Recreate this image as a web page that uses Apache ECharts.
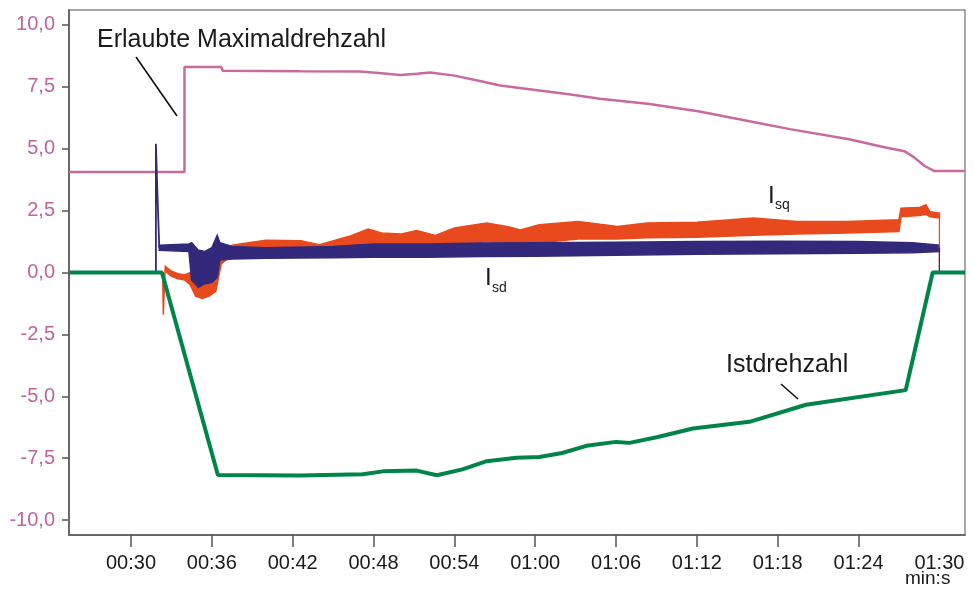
<!DOCTYPE html>
<html>
<head>
<meta charset="utf-8">
<script src="https://cdn.jsdelivr.net/npm/echarts@6/dist/echarts.min.js"></script>
<style>
html,body{margin:0;padding:0;background:#fff;}
#main{width:974px;height:589px;}
</style>
</head>
<body>
<div id="main"></div>
<script>
// Zeitachse in Sekunden
var yTicks = [-10, -7.5, -5, -2.5, 0, 2.5, 5, 7.5, 10];
var xTicks = [30, 36, 42, 48, 54, 60, 66, 72, 78, 84];
var xLabels = [30, 36, 42, 48, 54, 60, 66, 72, 78, 84, 90];

// Erlaubte Maximaldrehzahl
var maxT = [25.4, 33.97, 33.97, 36.7, 36.8, 42.6, 47.0, 48.6, 50.0, 51.2, 52.2, 54.0, 55.9, 57.4, 60.3, 62.5, 64.8, 68.5, 72.2, 75.9, 78.9, 83.3, 86.0, 87.4, 88.1, 88.9, 89.6, 91.9];
var maxV = [4.06, 4.06, 8.3, 8.3, 8.15, 8.13, 8.12, 8.05, 7.98, 8.03, 8.08, 7.95, 7.73, 7.55, 7.35, 7.2, 7.02, 6.8, 6.5, 6.11, 5.79, 5.38, 5.05, 4.9, 4.66, 4.3, 4.1, 4.1];

// Istdrehzahl
var istT = [25.4, 32.3, 36.45, 42.55, 47.2, 48.7, 51.2, 52.7, 54.6, 56.4, 58.6, 60.3, 62.0, 63.8, 66.0, 67.0, 69.1, 71.7, 75.9, 80.1, 87.5, 89.5, 91.9];
var istV = [0, 0, -8.18, -8.2, -8.15, -8.03, -8.0, -8.19, -7.95, -7.62, -7.48, -7.45, -7.29, -7.0, -6.84, -6.88, -6.64, -6.3, -6.03, -5.34, -4.75, 0, 0];

// Isd: duenne Linie (Spitze beim Einschalten) und Band
var isdLineT = [25.4, 31.85, 31.85, 31.95, 32.05, 32.1];
var isdLineV = [0, 0, 5.2, 3.4, 3.4, 1.0];
var isdEndT = [90.0, 90.0, 91.9];
var isdEndV = [1.0, 0, 0];
var isdT = [32.1, 34.3, 34.5, 35.0, 35.5, 36.0, 36.4, 36.6, 37.5, 40, 45, 48, 52, 56, 60, 66, 72, 78, 84, 88, 90.0];
var isdLo = [0.9, 0.85, -0.3, -0.6, -0.45, -0.4, -0.2, 0.5, 0.55, 0.58, 0.6, 0.62, 0.62, 0.65, 0.66, 0.7, 0.74, 0.76, 0.78, 0.8, 0.85];
var isdHi = [1.1, 1.15, 1.2, 0.9, 0.85, 1.0, 1.5, 1.2, 1.05, 1.0, 1.05, 1.15, 1.15, 1.19, 1.2, 1.22, 1.25, 1.26, 1.25, 1.2, 1.1];

// Isq
var isqLineT = [25.4, 32.35, 32.4, 32.5, 32.55];
var isqLineV = [0, 0, -1.7, -0.2, 0.15];
var isqEndT = [90.0, 90.0, 91.9];
var isqEndV = [2.3, 0, 0];
var isqT = [32.55, 33.0, 33.5, 34.0, 34.4, 34.8, 35.3, 35.8, 36.3, 36.5, 36.7, 37.5, 40, 42.6, 44, 46.2, 47.6, 48.6, 50, 51.2, 52.6, 54.0, 56.4, 58.0, 58.9, 60.3, 63.2, 66.1, 68.3, 72.0, 76.2, 79.4, 83.1, 87.0, 87.15, 88.5, 89.0, 89.3, 90.0];
var isqLo = [0.05, -0.15, -0.25, -0.3, -0.5, -0.95, -1.05, -0.95, -0.75, -0.2, 0.35, 0.7, 0.85, 0.95, 0.9, 1.0, 1.05, 1.05, 1.05, 1.05, 1.0, 1.1, 1.25, 1.2, 1.15, 1.2, 1.35, 1.35, 1.4, 1.42, 1.5, 1.55, 1.6, 1.65, 2.25, 2.3, 2.35, 2.25, 2.2];
var isqHi = [0.25, 0.05, -0.05, -0.1, 0.0, -0.1, -0.15, -0.05, 0.1, 0.5, 0.55, 1.1, 1.3, 1.28, 1.12, 1.46, 1.75, 1.6, 1.55, 1.7, 1.5, 1.8, 2.0, 1.85, 1.72, 1.93, 2.06, 1.86, 2.0, 2.03, 2.2, 2.06, 2.06, 2.13, 2.6, 2.62, 2.74, 2.45, 2.4];

var cPink = '#c86aa0';
var cBlue = '#33297a';
var cOrange = '#e84a1e';
var cGreen = '#00844a';
var font = '"Liberation Sans", Arial, sans-serif';

function pairs(t, v) {
	var out = [];
	for (var i = 0; i < t.length; i++) out.push([t[i], v[i]]);
	return out;
}
function bandData(t, lo, hi) {
	var out = [];
	for (var i = 0; i < t.length; i++) out.push([t[i], lo[i], hi[i]]);
	return out;
}
// Band als ein Polygon (oben hin, unten zurueck)
function bandSeries(t, lo, hi, color) {
	return {
		type: 'custom',
		data: bandData(t, lo, hi),
		encode: { x: 0, y: [1, 2] },
		silent: true,
		renderItem: function (params, api) {
			if (params.dataIndex !== 0) return;
			var pts = [];
			for (var i = 0; i < t.length; i++) pts.push(api.coord([t[i], hi[i]]));
			for (var j = t.length - 1; j >= 0; j--) pts.push(api.coord([t[j], lo[j]]));
			return {
				type: 'polygon',
				shape: { points: pts },
				style: { fill: color, stroke: color, lineWidth: 1.5 }
			};
		}
	};
}
function lineSeries(t, v, color, w) {
	return {
		type: 'line',
		data: pairs(t, v),
		showSymbol: false,
		silent: true,
		lineStyle: { color: color, width: w },
		itemStyle: { color: color }
	};
}
function fmtTime(v) {
	var m = Math.floor(v / 60), s = Math.round(v % 60);
	return (m < 10 ? '0' : '') + m + ':' + (s < 10 ? '0' : '') + s;
}

var chart = echarts.init(document.getElementById('main'));
var option = {
	animation: false,
	backgroundColor: '#fff',
	grid: {
		left: 69, right: 9, top: 10, bottom: 54,
		show: true, borderColor: '#8a8a8a', borderWidth: 1.5,
		outerBoundsMode: 'none'
	},
	xAxis: {
		type: 'value',
		min: 25.4, max: 91.9,
		axisLine: { show: true, onZero: false, lineStyle: { color: '#555', width: 1.5 } },
		axisTick: { show: true, length: 12, customValues: xTicks, lineStyle: { color: '#555', width: 1.5 } },
		axisLabel: {
			customValues: xLabels, margin: 18,
			fontSize: 20, fontFamily: font, color: '#1a1a1a',
			formatter: fmtTime
		},
		splitLine: { show: false }
	},
	yAxis: {
		type: 'value',
		min: -10.6, max: 10.6,
		axisLine: { show: true, onZero: false, lineStyle: { color: '#555', width: 1.5 } },
		axisTick: { show: true, inside: false, length: 7, customValues: yTicks, lineStyle: { color: '#555', width: 1.5 } },
		axisLabel: {
			customValues: yTicks, margin: 14,
			fontSize: 20, fontFamily: font, color: '#c0649c',
			formatter: function (v) { return v.toFixed(1).replace('.', ','); }
		},
		splitLine: { show: false }
	},
	series: [
		lineSeries(maxT, maxV, cPink, 2.5),
		lineSeries(isqLineT, isqLineV, cOrange, 1.5),
		lineSeries(isqEndT, isqEndV, cOrange, 1.2),
		bandSeries(isqT, isqLo, isqHi, cOrange),
		lineSeries(isdLineT, isdLineV, cBlue, 1.8),
		lineSeries(isdEndT, isdEndV, cBlue, 1.2),
		bandSeries(isdT, isdLo, isdHi, cBlue),
		lineSeries(istT, istV, cGreen, 4)
	],
	graphic: [
		{ type: 'text', left: 97, top: 28, style: { text: 'Erlaubte Maximaldrehzahl', font: '25px ' + font, fill: '#1a1a1a' } },
		{ type: 'line', shape: { x1: 136, y1: 57, x2: 177, y2: 116 }, style: { stroke: '#111', lineWidth: 1.6 } },
		{ type: 'text', left: 726, top: 353, style: { text: 'Istdrehzahl', font: '25px ' + font, fill: '#1a1a1a' } },
		{ type: 'line', shape: { x1: 781, y1: 384, x2: 798, y2: 399 }, style: { stroke: '#111', lineWidth: 1.6 } },
		{ type: 'text', left: 768, top: 184, style: { text: 'I', font: '24px ' + font, fill: '#1a1a1a' } },
		{ type: 'text', left: 775, top: 198, style: { text: 'sq', font: '14px ' + font, fill: '#1a1a1a' } },
		{ type: 'text', left: 485, top: 266, style: { text: 'I', font: '24px ' + font, fill: '#1a1a1a' } },
		{ type: 'text', left: 492, top: 281, style: { text: 'sd', font: '14px ' + font, fill: '#1a1a1a' } },
		{ type: 'text', left: 905, top: 569, style: { text: 'min:s', font: '19px ' + font, fill: '#1a1a1a' } }
	]
};
chart.setOption(option);
</script>
</body>
</html>
